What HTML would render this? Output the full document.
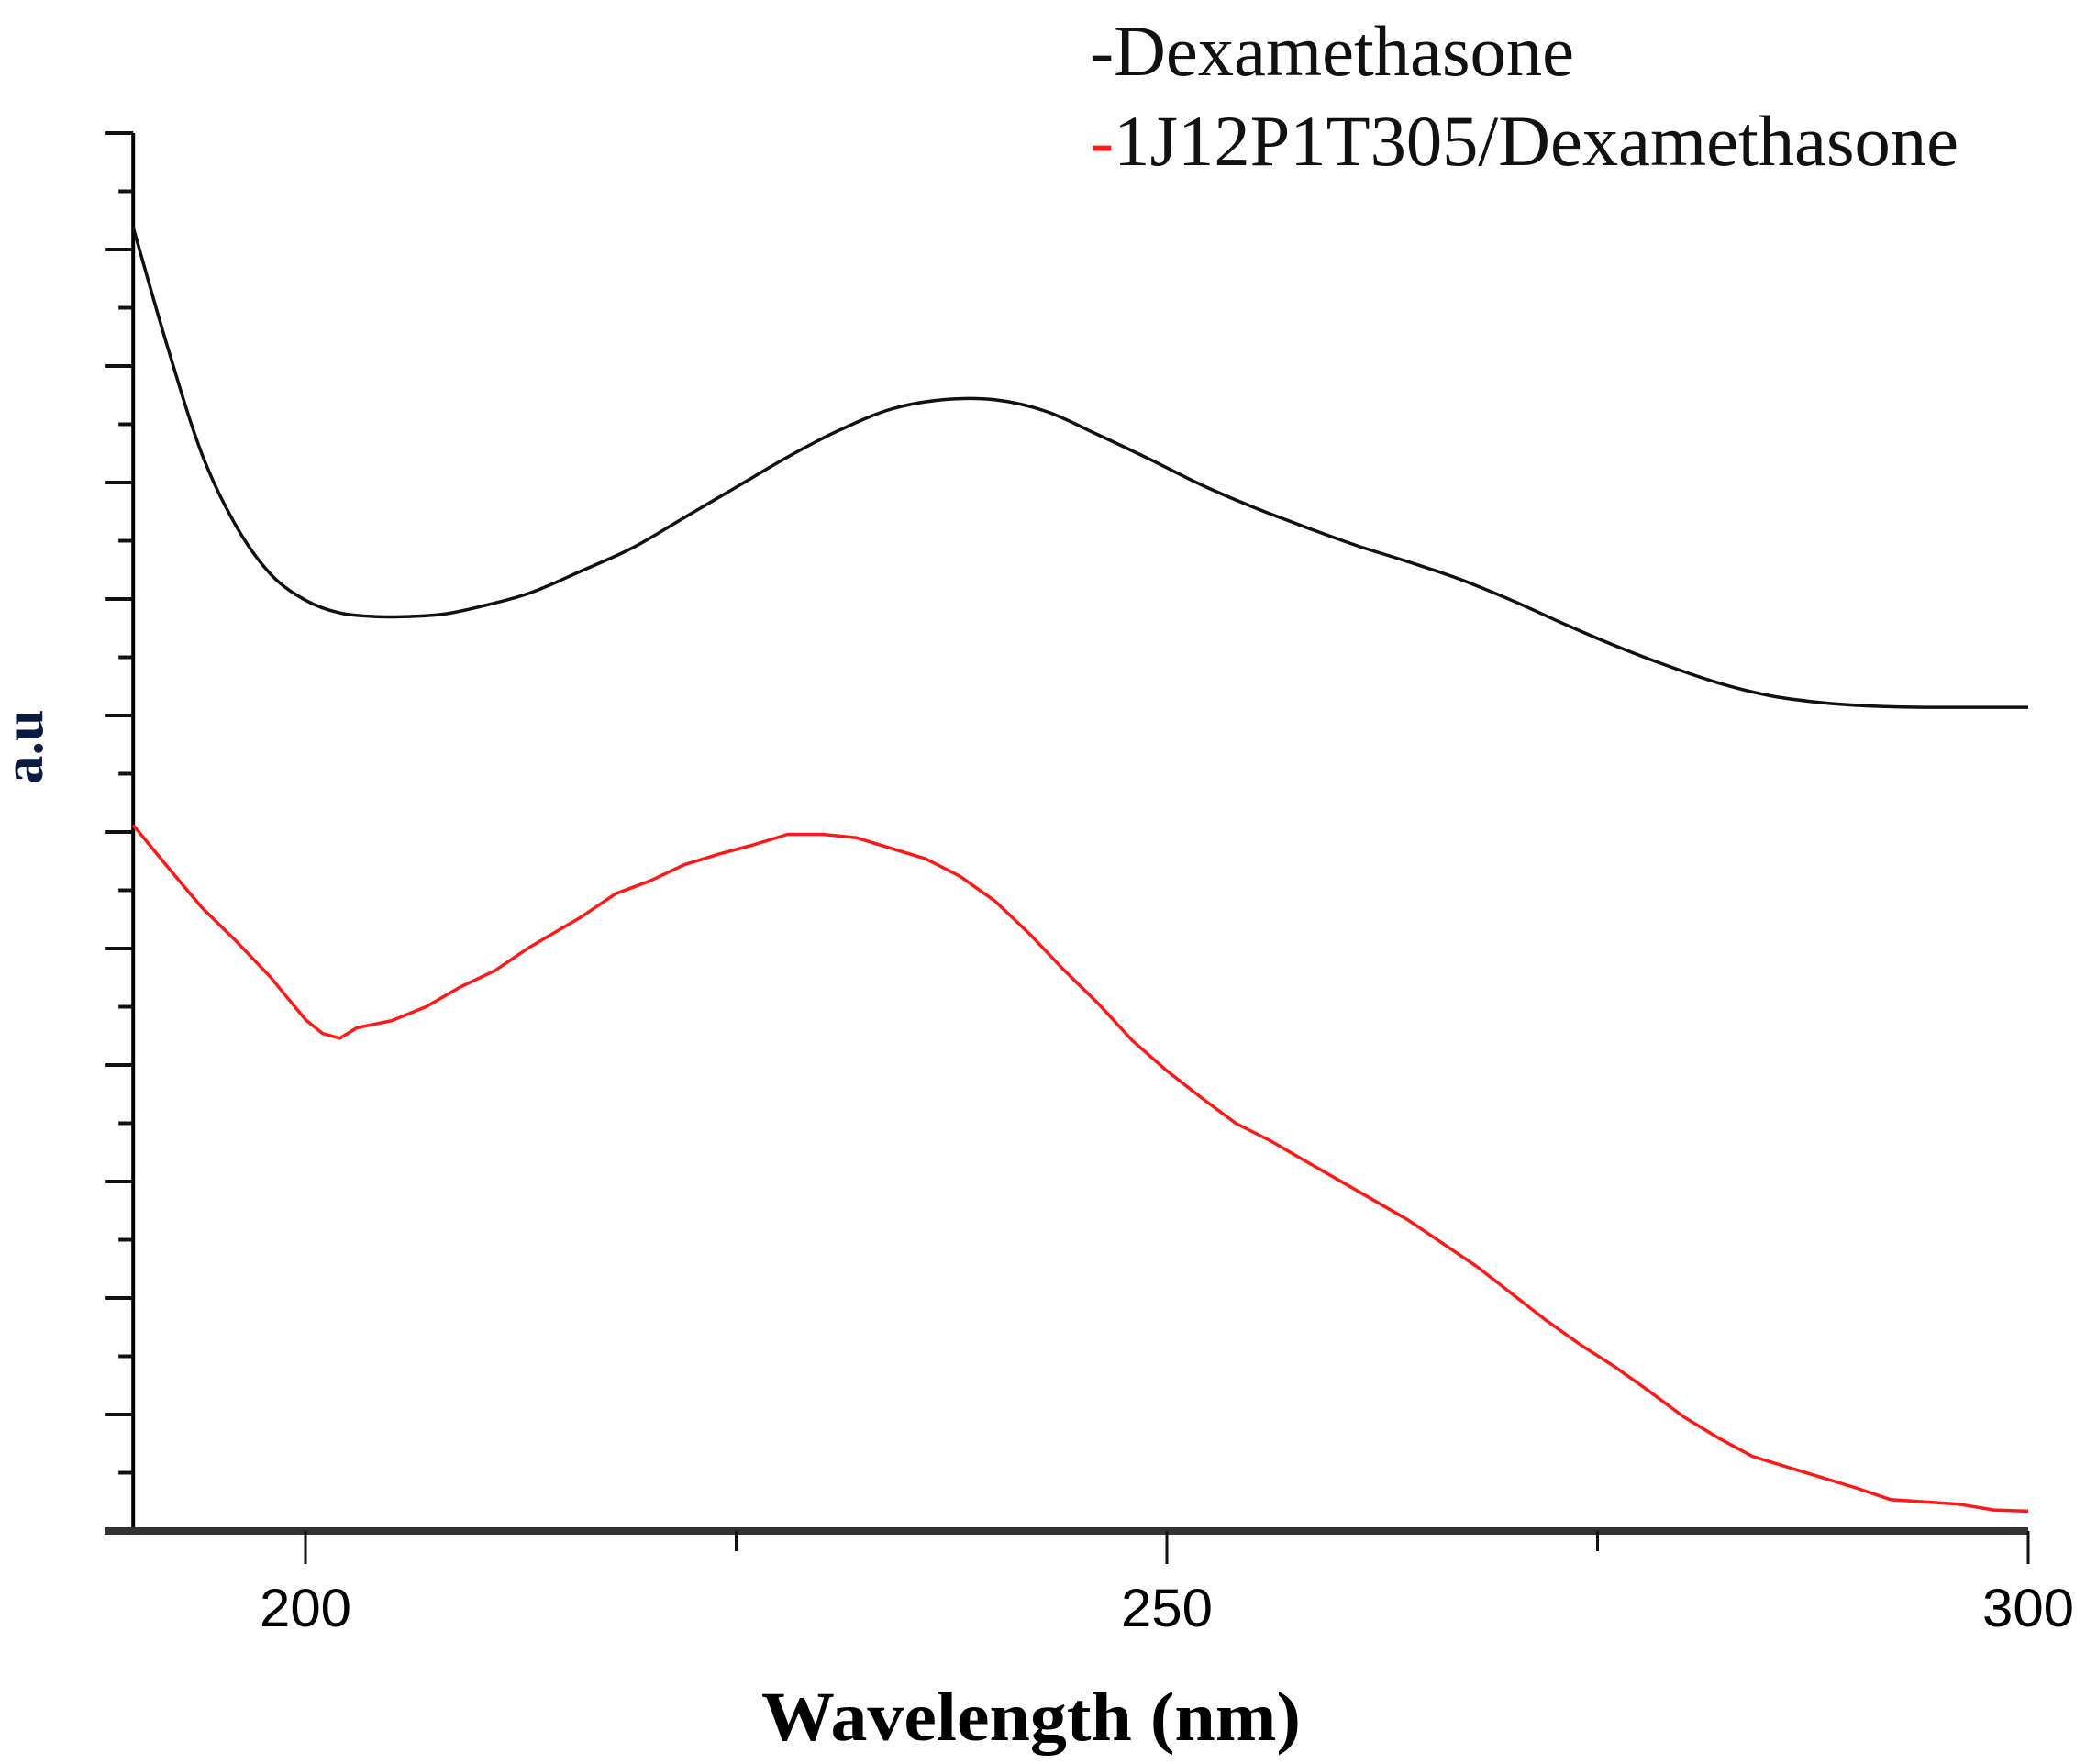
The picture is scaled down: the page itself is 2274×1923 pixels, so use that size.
<!DOCTYPE html>
<html><head><meta charset="utf-8"><style>
html,body{margin:0;padding:0;background:#fff}
svg{display:block}
</style></head><body>
<svg id="chart" width="2274" height="1923" viewBox="0 0 2274 1923" xmlns="http://www.w3.org/2000/svg">
<g id="axes"></g>
<g id="series"></g>
<g>
<text x="1188" y="82" font-family="Liberation Serif, serif" font-size="78" textLength="528" lengthAdjust="spacingAndGlyphs" fill="#111">-Dexamethasone</text>
<text x="1188" y="180" font-family="Liberation Serif, serif" font-size="78" textLength="947" lengthAdjust="spacingAndGlyphs" fill="#111"><tspan fill="#ff1a1a">-</tspan>1J12P1T305/Dexamethasone</text>
</g>
<text x="1124" y="1897" text-anchor="middle" font-family="Liberation Serif, serif" font-weight="bold" font-size="76" textLength="588" lengthAdjust="spacingAndGlyphs" fill="#000">Wavelength (nm)</text>
<text transform="translate(46,814) rotate(-90)" text-anchor="middle" font-family="Liberation Serif, serif" font-weight="bold" font-size="62" fill="#0a1a40">a.u</text>
</svg>
<script>
const NS='http://www.w3.org/2000/svg';
const xTicks=[200,250,300];
const xMinorTicks=[225,275];
const wlBlack=[190,192,194,196,198,200,202,204,206,208,210,213,216,219,222,225,228,231,234,237,240,243,246,249,252,255,258,261,264,267,270,273,276,279,282,285,288,291,294,300];
const absBlack=[11.19,10.16,9.24,8.62,8.21,7.99,7.88,7.85,7.85,7.87,7.93,8.05,8.24,8.44,8.70,8.96,9.22,9.45,9.63,9.71,9.71,9.61,9.41,9.20,8.98,8.79,8.62,8.46,8.32,8.17,7.99,7.79,7.60,7.43,7.28,7.17,7.11,7.08,7.07,7.07];
const wlRed=[190,192,194,196,198,200,201,202,203,205,207,209,211,213,216,218,220,222,224,226,228,230,232,234,236,238,240,242,244,246,248,250,252,254,256,258,260,262,264,266,268,270,272,274,276,278,280,282,284,286,288,290,292,294,296,298,300];
const absRed=[6.06,5.70,5.35,5.06,4.75,4.39,4.27,4.23,4.32,4.38,4.50,4.67,4.81,5.01,5.27,5.47,5.58,5.72,5.81,5.89,5.98,5.98,5.95,5.86,5.77,5.62,5.41,5.13,4.82,4.53,4.21,3.95,3.72,3.50,3.35,3.18,3.01,2.84,2.67,2.47,2.27,2.04,1.81,1.60,1.41,1.20,0.98,0.80,0.64,0.55,0.46,0.37,0.27,0.25,0.23,0.18,0.17];
const yMax=12;
function X(v){return 333+(v-200)*(2211-333)/100;}
function Y(v){return 1669-v*(1669-145)/yMax;}
function mk(tag,attrs,parent){const e=document.createElementNS(NS,tag);for(const k in attrs)e.setAttribute(k,attrs[k]);parent.appendChild(e);return e;}
const axes=document.getElementById('axes');
let yl=mk('line',{x1:X(190),y1:Y(yMax),x2:X(190),y2:Y(0)+3,stroke:'#000','stroke-width':4},axes);


for(let i=0;i<=yMax*2;i++){
  const major=i%2===0;
  const t=mk('line',{x1:X(190)-(major?30:16),y1:Y(i/2),x2:X(190),y2:Y(i/2),stroke:'#111','stroke-width':4},axes);
  
  
}
let xl=mk('line',{x1:114,y1:Y(0),x2:X(300),y2:Y(0),stroke:'#333','stroke-width':8},axes);


xTicks.forEach(v=>{
  const t=mk('line',{x1:X(v),y1:Y(0),x2:X(v),y2:Y(0)+36,stroke:'#111','stroke-width':3},axes);
  
  
  const l=mk('text',{x:X(v),y:1773,'text-anchor':'middle','font-family':'Liberation Sans, sans-serif','font-size':58,textLength:100,lengthAdjust:'spacingAndGlyphs',fill:'#000'},axes);
  l.textContent=String(v);
  
  
});
xMinorTicks.forEach(v=>{
  const t=mk('line',{x1:X(v),y1:Y(0),x2:X(v),y2:Y(0)+22,stroke:'#111','stroke-width':3},axes);
  
  
});
const series=document.getElementById('series');
function path(xs,ys){return xs.map((x,i)=>(i?'L':'M')+X(x).toFixed(1)+' '+Y(ys[i]).toFixed(1)).join(' ');}
function smooth(xs,ys){
  const p=xs.map((x,i)=>[X(x),Y(ys[i])]);
  let d='M'+p[0][0].toFixed(1)+' '+p[0][1].toFixed(1);
  for(let i=0;i<p.length-1;i++){
    const p0=p[i-1]||p[i],p1=p[i],p2=p[i+1],p3=p[i+2]||p2;
    const c1=[p1[0]+(p2[0]-p0[0])/6,p1[1]+(p2[1]-p0[1])/6];
    const c2=[p2[0]-(p3[0]-p1[0])/6,p2[1]-(p3[1]-p1[1])/6];
    d+=' C'+c1[0].toFixed(1)+' '+c1[1].toFixed(1)+' '+c2[0].toFixed(1)+' '+c2[1].toFixed(1)+' '+p2[0].toFixed(1)+' '+p2[1].toFixed(1);
  }
  return d;
}
const pb=mk('path',{d:smooth(wlBlack,absBlack),fill:'none',stroke:'#111','stroke-width':3.5,'stroke-linejoin':'round'},series);


const pr=mk('path',{d:path(wlRed,absRed),fill:'none',stroke:'#ff1a1a','stroke-width':3.5,'stroke-linejoin':'round'},series);


</script>
</body></html>
